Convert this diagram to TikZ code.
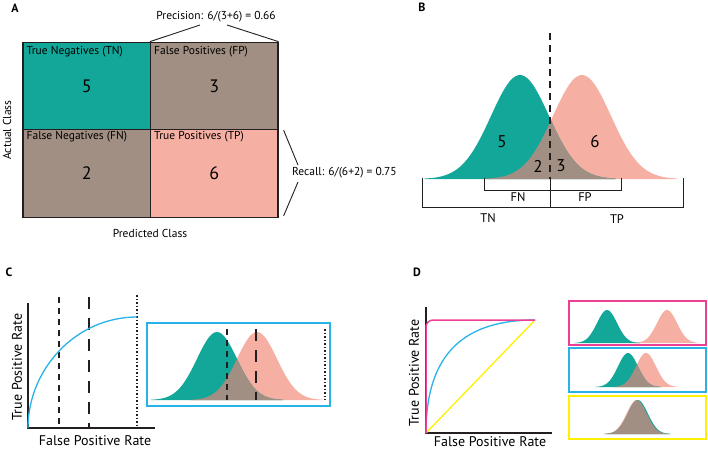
\documentclass[tikz,border=0pt]{standalone}
\usepackage{fontspec}
\setmainfont{PT Sans}
\usetikzlibrary{calc}

\definecolor{tncol}{RGB}{18,167,153}
\definecolor{mixcol}{RGB}{161,143,131}
\definecolor{tpcol}{RGB}{246,176,163}
\definecolor{bluecol}{RGB}{39,179,232}
\definecolor{magcol}{RGB}{236,64,150}
\definecolor{yelcol}{RGB}{255,240,0}
\definecolor{inkcol}{RGB}{35,31,32}

% pair of bells: #1 neg mean, #2 pos mean, #3 sigma, #4 height, #5 baseline
\newcommand{\bellpair}[5]{%
 \pgfmathsetmacro{\negL}{#1-3.3*#3}\pgfmathsetmacro{\negR}{#1+3.3*#3}%
 \pgfmathsetmacro{\posL}{#2-3.3*#3}\pgfmathsetmacro{\posR}{#2+3.3*#3}%
 \fill[tpcol] (\posL,#5) -- plot[domain=\posL:\posR,samples=70] (\x,{#5-#4*exp(-0.5*((\x-#2)/#3)*((\x-#2)/#3))}) -- (\posR,#5) -- cycle;
 \fill[tncol] (\negL,#5) -- plot[domain=\negL:\negR,samples=70] (\x,{#5-#4*exp(-0.5*((\x-#1)/#3)*((\x-#1)/#3))}) -- (\negR,#5) -- cycle;
 \fill[mixcol] (\posL,#5) -- plot[domain=\posL:\negR,samples=70] (\x,{#5-#4*min(exp(-0.5*((\x-#1)/#3)*((\x-#1)/#3)),exp(-0.5*((\x-#2)/#3)*((\x-#2)/#3)))}) -- (\negR,#5) -- cycle;
}

\begin{document}
\begin{tikzpicture}[x=1pt,y=-1pt,
 cell/.style={draw=inkcol,line width=1.2pt,minimum width=127.5pt,minimum height=87.5pt,inner sep=0pt,font=\fontsize{18}{20}\selectfont},
 lbl/.style={inner sep=0pt,font=\fontsize{11.5}{13}\selectfont},
 big/.style={inner sep=0pt,font=\fontsize{17}{20}\selectfont},
 small/.style={inner sep=0pt,font=\fontsize{12.5}{14}\selectfont},
 axlbl/.style={inner sep=0pt,font=\fontsize{14}{16}\selectfont},
 panel/.style={inner sep=0pt,font=\fontsize{12}{14}\selectfont\bfseries},
 brk/.style={inkcol,line width=0.9pt},
 axis/.style={inkcol,line width=1.3pt},
 thrshort/.style={inkcol,line width=1.1pt,dash pattern=on 6pt off 5pt},
 thrlong/.style={inkcol,line width=1.1pt,dash pattern=on 12pt off 9pt},
 thrdot/.style={inkcol,line width=1.1pt,dash pattern=on 1.5pt off 2pt},
 frame/.style={line width=1.5pt,inner sep=0pt,minimum width=137pt}]
\useasboundingbox (0,0) rectangle (708,451);

% A: confusion matrix
\node[panel] (pa) at (15,8) {A};
\node[cell,fill=tncol] (tn) at (86.75,86) {5};
\node[cell,fill=mixcol] (fp) at (214.25,86) {3};
\node[cell,fill=mixcol] (fn) at (86.75,173.5) {2};
\node[cell,fill=tpcol] (tp) at (214.25,173.5) {6};
\node[lbl,anchor=west] (tnlab) at ($(tn.north west)+(4,10)$) {True Negatives (TN)};
\node[lbl,anchor=west] (fplab) at ($(fp.north west)+(4,10)$) {False Positives (FP)};
\node[lbl,anchor=west] (fnlab) at ($(fn.north west)+(4,8)$) {False Negatives (FN)};
\node[lbl,anchor=west] (tplab) at ($(tp.north west)+(4,8)$) {True Positives (TP)};
\node[lbl] (prec) at (216,17) {Precision: 6/(3+6) = 0.66};
\coordinate (precl) at (200,25);
\coordinate (precr) at (227,25);
\draw[brk] (fp.north west) -- (precl);
\draw[brk] (fp.north east) -- (precr);
\node[lbl,anchor=west] (recall) at (292,173) {Recall: 6/(6+2) = 0.75};
\coordinate (recu) at (298,165);
\coordinate (recd) at (298,182);
\draw[brk] ($(tp.north east)+(5,1)$) -- (recu);
\draw[brk] ($(tp.south east)+(5,-2)$) -- (recd);
\node[lbl,rotate=90] (actual) at (7,130) {Actual Class};
\node[lbl] (predicted) at (150,233) {Predicted Class};

% B: two classes and threshold
\node[panel] (pb) at (422,7) {B};
\bellpair{520}{582}{29}{104}{179}
\draw[inkcol,line width=1.1pt,dash pattern=on 7pt off 5pt] (550,33) -- (550,179);
\draw[brk] (422,178) -- (422,207) -- (683,207) -- (683,178);
\draw[brk] (550,178) -- (550,207);
\draw[brk] (484,178) -- (484,190) -- (621,190) -- (621,178);
\node[big] (b5) at (502,142) {5};
\node[big] (b6) at (595,142) {6};
\node[big] (b2) at (538,166) {2};
\node[big] (b3) at (561,166) {3};
\node[small] (bfn) at (518,197) {FN};
\node[small] (bfp) at (585,197) {FP};
\node[small] (btn) at (488,218) {TN};
\node[small] (btp) at (617,219) {TP};

% C: ROC with thresholds
\node[panel] (pc) at (9,272) {C};
\draw[axis] (28,303) -- (28,428) -- (155,428);
\draw[thrshort] (59,297) -- (59,428);
\draw[thrlong] (89,297) -- (89,428);
\draw[thrdot] (137,295) -- (137,428);
\draw[bluecol,line width=1.3pt] (28,428) .. controls (28,370) and (75,317) .. (137,317);
\node[axlbl,rotate=90] (ctpr) at (17,367) {True Positive Rate};
\node[axlbl] (cfpr) at (95,441) {False Positive Rate};
\bellpair{217}{257}{20}{68}{400}
\node[frame,draw=bluecol,minimum width=183pt,minimum height=83pt] (cbox) at (238.5,364.5) {};
\draw[thrshort] (227,329) -- (227,400);
\draw[thrlong] (256,329) -- (256,400);
\draw[thrdot] (325,329) -- (325,400);

% D: three ROC curves
\node[panel] (pd) at (417,272) {D};
\draw[axis] (426,307) -- (426,433) -- (552,433);
\draw[yelcol,line width=1.3pt] (426,433) -- (535,320);
\draw[bluecol,line width=1.3pt] (426,433) .. controls (426,360) and (458,320) .. (535,320);
\draw[magcol,line width=1.5pt,rounded corners=7pt] (426,433) -- (426,320) -- (535,320);
\node[axlbl,rotate=90] (dtpr) at (414,373) {True Positive Rate};
\node[axlbl] (dfpr) at (490,442) {False Positive Rate};
\bellpair{607}{667}{10}{33}{343}
\bellpair{628}{646}{10}{34}{387}
\bellpair{637.8}{636.6}{10}{34}{434}
\node[frame,draw=magcol,minimum height=44pt] (dgood) at (637.5,323) {};
\node[frame,draw=bluecol,minimum height=44pt] (dmid) at (637.5,370) {};
\node[frame,draw=yelcol,minimum height=43pt] (dbad) at (637.5,417.5) {};
\end{tikzpicture}
\end{document}
